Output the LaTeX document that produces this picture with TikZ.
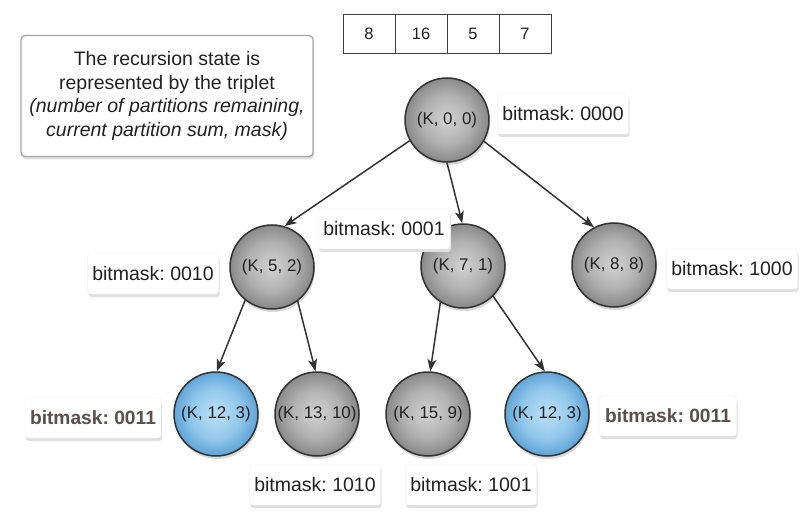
\documentclass[tikz,border=0pt]{standalone}
\usepackage{fontspec}
\setmainfont{Liberation Sans}
\frenchspacing
\usetikzlibrary{arrows.meta,shadows}
\definecolor{edgecol}{HTML}{333333}
\definecolor{txtcol}{HTML}{222222}
\definecolor{boldcol}{HTML}{5A5050}
\definecolor{gin}{HTML}{CDCDCD}
\definecolor{gmid}{HTML}{B0B0B0}
\definecolor{gout}{HTML}{888888}
\definecolor{bin}{HTML}{B4DCF5}
\definecolor{bmid}{HTML}{93C8EC}
\definecolor{bout}{HTML}{5EA3D6}
\newcommand\balldiscs[3]{%
  \foreach \i in {0,...,28}{%
    \pgfmathsetmacro\tt{1-\i/28}%
    \pgfmathsetmacro\pa{max(0,min(100,(\tt-0.6)/0.4*100))}%
    \pgfmathsetmacro\pb{max(0,min(100,(\tt-0.12)/0.48*100))}%
    \ifdim\tt pt>0.6pt
      \fill[#3!\pa!#2] (path picture bounding box.center) circle[radius=\tt*43pt];
    \else
      \fill[#2!\pb!#1] (path picture bounding box.center) circle[radius=\tt*43pt];
    \fi
  }}
\tikzset{
  ball/.style={circle, minimum size=84pt, inner sep=0pt, draw=edgecol, line width=1.5pt,
    fill=gout, path picture={\balldiscs{gin}{gmid}{gout}}, text=txtcol,
    font=\fontsize{16.9}{19}\selectfont,
    drop shadow={shadow xshift=1pt, shadow yshift=-3pt, fill=black!15, opacity=1}},
  blueball/.style={ball, fill=bout, path picture={\balldiscs{bin}{bmid}{bout}}},
  lbl/.style={rounded corners=3pt, fill=white, draw=black!6, text=txtcol,
    minimum height=40pt, inner xsep=5pt,
    font=\fontsize{19.5}{23}\selectfont,
    drop shadow={shadow xshift=1pt, shadow yshift=-3pt, fill=black!12, opacity=1}},
  boldlbl/.style={lbl, text=boldcol, font=\fontsize{19.2}{23}\bfseries\selectfont},
  cell/.style={draw=black!75, line width=0.8pt, minimum width=52pt, minimum height=39pt,
    inner sep=0pt, text=txtcol, font=\fontsize{16.5}{19}\selectfont},
  arr/.style={draw=edgecol, line width=1.5pt, -{Stealth[length=12pt,width=9pt,inset=3pt]}},
}
\begin{document}
\begin{tikzpicture}[x=1pt,y=-1pt]
\useasboundingbox[fill=white] (0,0) rectangle (800,529);
% note
\node[rounded corners=4pt, fill=white, draw=black!35, line width=1.3pt,
  minimum width=292pt, minimum height=121pt, inner sep=0pt, text=txtcol,
  align=center, font=\fontsize{19.5}{23.5}\selectfont,
  drop shadow={shadow xshift=1pt, shadow yshift=-3pt, fill=black!12, opacity=1}]
  (note) at (167,96) {The recursion state is\\represented by the triplet\\\textit{(number of partitions remaining,}\\\textit{current partition sum, mask)}};
% array
\node[cell] (c1) at (369,33.5) {8};
\node[cell] (c2) at (421,33.5) {16};
\node[cell] (c3) at (473,33.5) {5};
\node[cell] (c4) at (525,33.5) {7};
% circles
\node[ball] (r) at (447,120) {(K, 0, 0)};
\node[ball] (a) at (272,267) {(K, 5, 2)};
\node[ball] (b) at (463,266) {(K, 7, 1)};
\node[ball] (c) at (614,265) {(K, 8, 8)};
\node[blueball] (d) at (216,414) {(K, 12, 3)};
\node[ball] (e) at (317,414) {(K, 13, 10)};
\node[ball] (f) at (428,414) {(K, 15, 9)};
\node[blueball] (g) at (547,414) {(K, 12, 3)};
% edges
\draw[arr] (r.209) -- (a.73);
\draw[arr] (r.270) -- (b.91);
\draw[arr] (r.330) -- (c.118);
\draw[arr] (a.231) -- (d.89);
\draw[arr] (a.307) -- (e.92);
\draw[arr] (b.238) -- (f.87);
\draw[arr] (b.315) -- (g.93);
% labels
\node[lbl, minimum width=131pt] (l0) at (563,114) {bitmask: 0000};
\node[lbl, minimum width=132pt] (l1) at (384,229) {bitmask: 0001};
\node[lbl, minimum width=130pt] (l2) at (153,274) {bitmask: 0010};
\node[lbl, minimum width=130pt] (l3) at (732,269) {bitmask: 1000};
\node[boldlbl, minimum width=135pt] (l4) at (93,418) {bitmask: 0011};
\node[boldlbl, minimum width=137pt] (l5) at (668,416) {bitmask: 0011};
\node[lbl, minimum width=131pt] (l6) at (315,485) {bitmask: 1010};
\node[lbl, minimum width=130pt] (l7) at (471,485) {bitmask: 1001};
\end{tikzpicture}
\end{document}
